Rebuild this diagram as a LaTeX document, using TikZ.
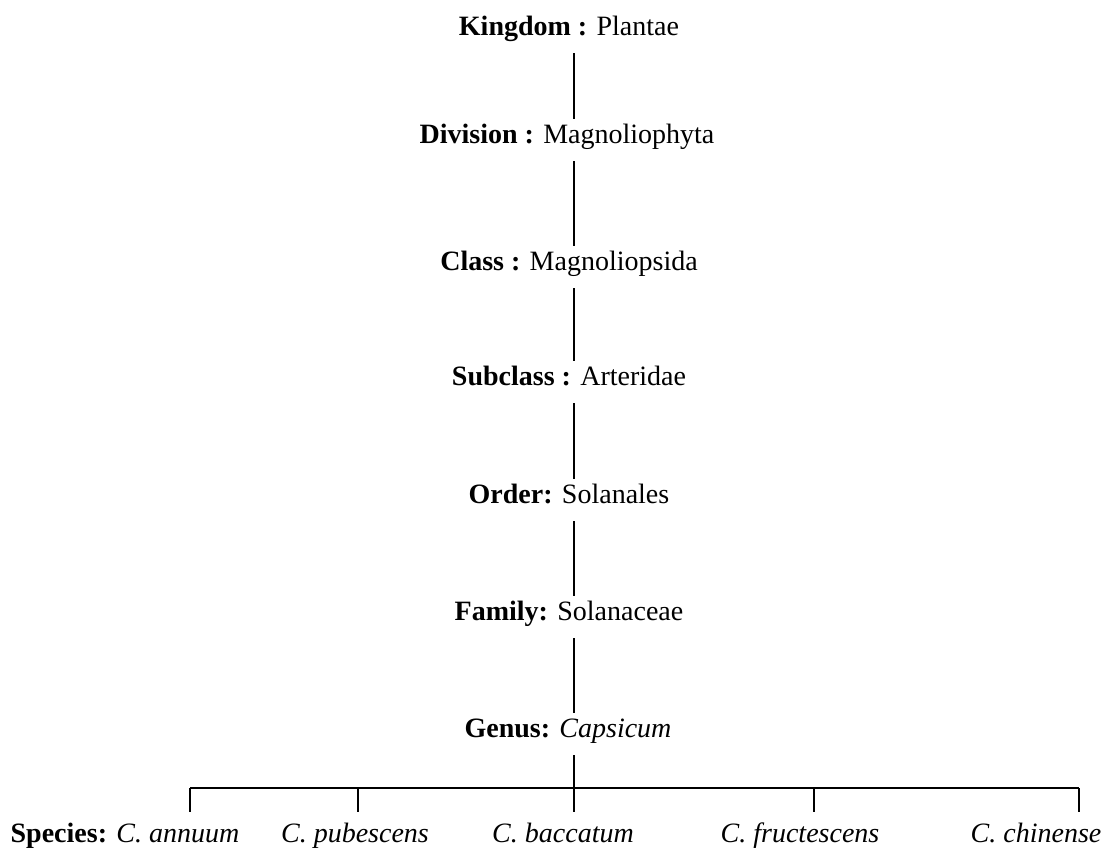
\documentclass[tikz,border=0pt]{standalone}
\usepackage{fontspec}
\setmainfont{Liberation Serif}
\begin{document}
\begin{tikzpicture}[x=0.5pt, y=-0.5pt, every node/.style={font=\fontsize{14}{16}\selectfont, anchor=base, inner xsep=0pt}, rank/.style={inner ysep=2pt, text height=10pt, text depth=7pt}, species/.style={inner ysep=5pt, text height=10pt, text depth=3pt}, stem/.style={line width=0.9pt}]
		% \draw[help lines] (0,0) grid (1104,857);
		\useasboundingbox (0,0) rectangle (1104,857);
		\coordinate (spine) at (574,0);

		\node[rank] (kingdom) at (569,35) {\textbf{Kingdom :} Plantae};
		\node[rank] (division) at (567,143) {\textbf{Division :} Magnoliophyta};
		\node[rank] (class) at (569,270) {\textbf{Class :} Magnoliopsida};
		\node[rank] (subclass) at (569,385) {\textbf{Subclass :} Arteridae};
		\node[rank] (order) at (569,503) {\textbf{Order:} Solanales};
		\node[rank] (family) at (569,620) {\textbf{Family:} Solanaceae};
		\node[rank] (genus) at (568,737) {\textbf{Genus:} \textit{Capsicum}};

		\node[species] (annuum) at (125,842) {\textbf{Species:} \textit{C. annuum}};
		\node[species] (pubescens) at (355,842) {\textit{C. pubescens}};
		\node[species] (baccatum) at (563,842) {\textit{C. baccatum}};
		\node[species] (fructescens) at (800,842) {\textit{C. fructescens}};
		\node[species] (chinense) at (1036,842) {\textit{C. chinense}};

		\draw[stem] (kingdom.south -| spine) -- (division.north -| spine);
		\draw[stem] (division.south -| spine) -- (class.north -| spine);
		\draw[stem] (class.south -| spine) -- (subclass.north -| spine);
		\draw[stem] (subclass.south -| spine) -- (order.north -| spine);
		\draw[stem] (order.south -| spine) -- (family.north -| spine);
		\draw[stem] (family.south -| spine) -- (genus.north -| spine);
		\draw[stem] (genus.south -| spine) -- (spine |- baccatum.north);

		\coordinate (t1) at (190,788);
		\coordinate (t2) at (358,788);
		\coordinate (t4) at (814,788);
		\coordinate (t5) at (1079,788);
		\draw[line width=1.2pt] (t1) -- (t5);
		\draw[stem] (t1) -- (t1 |- annuum.north);
		\draw[stem] (t2) -- (t2 |- pubescens.north);
		\draw[stem] (t4) -- (t4 |- fructescens.north);
		\draw[stem] (t5) -- (t5 |- chinense.north);
	\end{tikzpicture}
\end{document}
